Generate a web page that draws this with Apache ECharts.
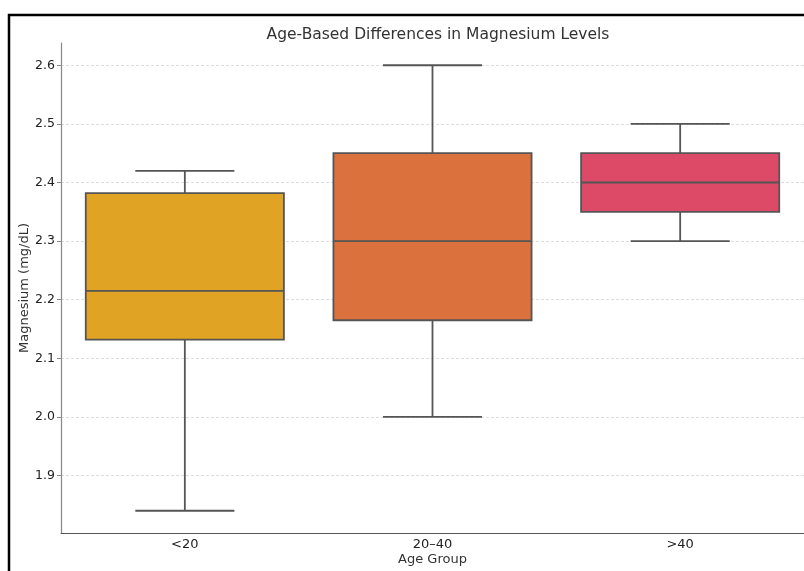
<!DOCTYPE html>
<html><head><meta charset="utf-8">
<script src="https://cdn.jsdelivr.net/npm/echarts@6/dist/echarts.min.js"></script>
<style>html,body{margin:0;padding:0;background:#fff}#c{width:804px;height:571px}</style>
</head><body><div id="c"></div>
<script>
const categories = ['<20', '20–40', '>40'];
const mins    = [1.84, 2.00, 2.30];
const q1s     = [2.132, 2.165, 2.35];
const medians = [2.215, 2.30, 2.40];
const q3s     = [2.382, 2.45, 2.45];
const maxs    = [2.42, 2.60, 2.50];
const colors  = ['#E0A323', '#DB713C', '#DD4A67'];
const yTicks  = [1.9, 2.0, 2.1, 2.2, 2.3, 2.4, 2.5, 2.6];

const data = categories.map((c, i) => [i, mins[i], q1s[i], medians[i], q3s[i], maxs[i]]);
const stroke = '#555555';

const chart = echarts.init(document.getElementById('c'), null, {renderer: 'canvas'});
chart.setOption({
  animation: false,
  backgroundColor: '#fff',
  textStyle: {fontFamily: 'DejaVu Sans'},
  title: {
    text: 'Age-Based Differences in Magnesium Levels',
    left: 433, top: 22, textAlign: 'center',
    textStyle: {fontFamily: 'DejaVu Sans', fontSize: 15.5, fontWeight: 'normal', color: '#333'}
  },
  graphic: [{
    type: 'polyline', silent: true,
    shape: {points: [[9, 600], [9, 15], [820, 15]]},
    style: {stroke: '#000', lineWidth: 2.5, fill: null}
  }],
  grid: {left: 61, right: -3, top: 43, bottom: 35, containLabel: false},
  xAxis: {
    type: 'category', data: categories, boundaryGap: true,
    name: 'Age Group', nameLocation: 'middle', nameGap: 20, nameMoveOverlap: false,
    nameTextStyle: {fontFamily: 'DejaVu Sans', fontSize: 13, color: '#333'},
    axisLine: {lineStyle: {color: '#555', width: 1.2}},
    axisTick: {alignWithLabel: true, length: 4, lineStyle: {color: '#555'}},
    axisLabel: {fontFamily: 'DejaVu Sans', fontSize: 13, color: '#222', margin: 5},
    splitLine: {show: false}
  },
  yAxis: {
    type: 'value', min: 1.802, max: 2.638,
    name: 'Magnesium (mg/dL)', nameLocation: 'middle', nameGap: 30, nameMoveOverlap: false,
    nameTextStyle: {fontFamily: 'DejaVu Sans', fontSize: 13, color: '#333'},
    axisLine: {show: true, lineStyle: {color: '#888', width: 1.2}},
    axisTick: {show: true, length: 4, lineStyle: {color: '#888'}, customValues: yTicks},
    axisLabel: {fontFamily: 'DejaVu Sans', fontSize: 12.5, color: '#222', margin: 6,
      customValues: yTicks, formatter: v => v.toFixed(1)},
    splitLine: {show: true, lineStyle: {color: '#d4d4d4', type: [3, 2], width: 0.8}}
  },
  series: [{
    type: 'custom',
    data: data,
    encode: {x: 0, y: [1, 2, 3, 4, 5]},
    renderItem: function (params, api) {
      const i = api.value(0);
      const band = api.size([1, 0])[0];
      const x = api.coord([i, api.value(3)])[0];
      const yMin = api.coord([i, api.value(1)])[1];
      const yQ1 = api.coord([i, api.value(2)])[1];
      const yMed = api.coord([i, api.value(3)])[1];
      const yQ3 = api.coord([i, api.value(4)])[1];
      const yMax = api.coord([i, api.value(5)])[1];
      const hw = band * 0.4, cw = band * 0.2;
      const ls = {stroke: stroke, lineWidth: 1.8};
      return {
        type: 'group',
        children: [
          {type: 'line', shape: {x1: x, y1: yQ3, x2: x, y2: yMax}, style: ls},
          {type: 'line', shape: {x1: x, y1: yQ1, x2: x, y2: yMin}, style: ls},
          {type: 'line', shape: {x1: x - cw, y1: yMax, x2: x + cw, y2: yMax}, style: ls},
          {type: 'line', shape: {x1: x - cw, y1: yMin, x2: x + cw, y2: yMin}, style: ls},
          {type: 'rect', shape: {x: x - hw, y: yQ3, width: 2 * hw, height: yQ1 - yQ3},
            style: {fill: colors[i], stroke: stroke, lineWidth: 1.8}},
          {type: 'line', shape: {x1: x - hw, y1: yMed, x2: x + hw, y2: yMed}, style: ls}
        ]
      };
    }
  }]
});
</script></body></html>
